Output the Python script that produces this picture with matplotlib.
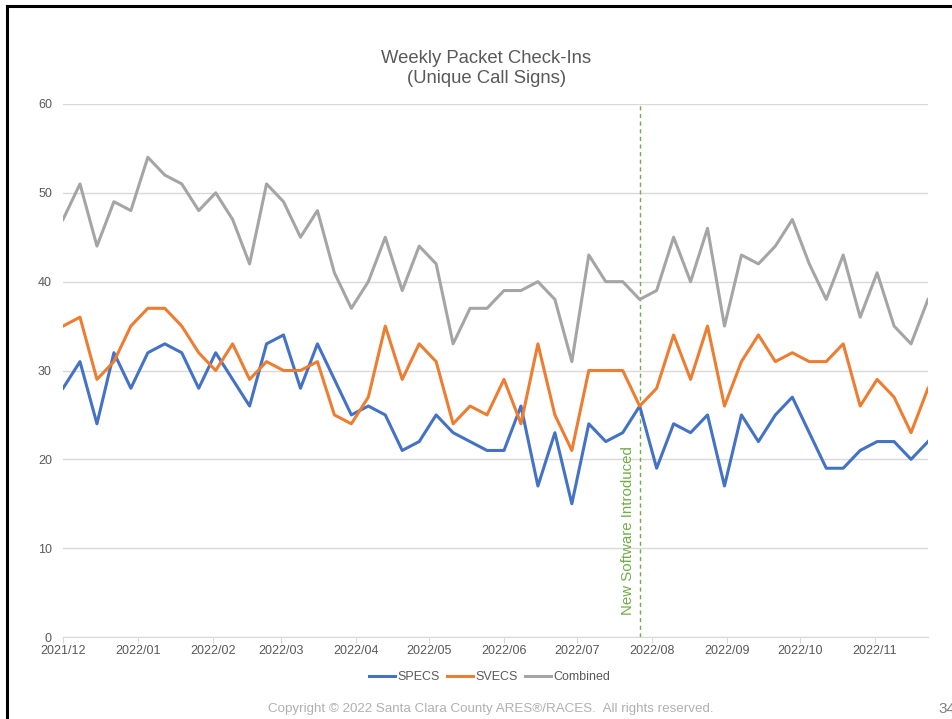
import numpy as np
import pandas as pd
import matplotlib
matplotlib.use("Agg")
import matplotlib.pyplot as plt
import matplotlib.dates as mdates
from matplotlib.lines import Line2D

plt.rcParams["font.family"] = ["Liberation Sans", "DejaVu Sans"]

# weekly check-ins, every Wednesday from 2021-12-01
weeks = pd.date_range("2021-12-01", periods=52, freq="7D")

specs = [28, 31, 24, 32, 28, 32, 33, 32, 28, 32,
         29, 26, 33, 34, 28, 33, 29, 25, 26, 25,
         21, 22, 25, 23, 22, 21, 21, 26, 17, 23,
         15, 24, 22, 23, 26, 19, 24, 23, 25, 17,
         25, 22, 25, 27, 23, 19, 19, 21, 22, 22,
         20, 22]
svecs = [35, 36, 29, 31, 35, 37, 37, 35, 32, 30,
         33, 29, 31, 30, 30, 31, 25, 24, 27, 35,
         29, 33, 31, 24, 26, 25, 29, 24, 33, 25,
         21, 30, 30, 30, 26, 28, 34, 29, 35, 26,
         31, 34, 31, 32, 31, 31, 33, 26, 29, 27,
         23, 28]
combined = [47, 51, 44, 49, 48, 54, 52, 51, 48, 50,
            47, 42, 51, 49, 45, 48, 41, 37, 40, 45,
            39, 44, 42, 33, 37, 37, 39, 39, 40, 38,
            31, 43, 40, 40, 38, 39, 45, 40, 46, 35,
            43, 42, 44, 47, 42, 38, 43, 36, 41, 35,
            33, 38]

series = [("SPECS", specs, "#4472c4"),
          ("SVECS", svecs, "#ed7d31"),
          ("Combined", combined, "#a5a5a5")]

software_date = pd.Timestamp("2022-07-27")
month_ticks = pd.date_range("2021-12-01", "2022-11-01", freq="MS")

fig = plt.figure(figsize=(9.52, 7.19), dpi=100)
ax = fig.add_axes([0.0662, 0.1140, 0.9086, 0.7414])

for name, vals, color in series:
    ax.plot(weeks, vals, color=color, lw=2.2, label=name, zorder=3)

ax.axvline(software_date, color="#70ad47", lw=1.0, ls=(0, (3, 2.5)), zorder=2)
ax.text(software_date - pd.Timedelta(days=5), 2.5, "New Software Introduced",
        rotation=90, ha="center", va="bottom", color="#70ad47", fontsize=10.8)

ax.set_xlim(weeks[0], weeks[-1])
ax.set_ylim(0, 60)
ax.set_yticks(range(0, 61, 10))
ax.set_xticks(month_ticks)
ax.xaxis.set_major_formatter(mdates.DateFormatter("%Y/%m"))

ax.grid(axis="y", color="#d9d9d9", lw=1.0)
ax.set_axisbelow(True)
for side in ["top", "right", "left"]:
    ax.spines[side].set_visible(False)
ax.spines["bottom"].set_color("#d9d9d9")
ax.tick_params(axis="y", length=0, pad=8, labelsize=9, labelcolor="#595959")
ax.tick_params(axis="x", length=4, width=0.8, color="#d9d9d9", pad=2,
               labelsize=9, labelcolor="#595959")

fig.text(0.511, 0.905, "Weekly Packet Check-Ins\n(Unique Call Signs)",
         ha="center", va="center", fontsize=13.3, color="#595959",
         linespacing=1.25)

handles = [Line2D([], [], color=c, lw=2.2) for _, _, c in series]
fig.legend(handles, [n for n, _, _ in series], loc="center",
           bbox_to_anchor=(0.514, 0.058), ncol=3, frameon=False,
           fontsize=9, handlelength=2.1, handletextpad=0.15,
           columnspacing=0.6, labelcolor="#595959")

fig.text(0.516, 0.014, "Copyright \u00a9 2022 Santa Clara County ARES\u00ae/RACES.  All rights reserved.",
         ha="center", va="center", fontsize=9.6, color="#b0b0b0")
fig.text(0.986, 0.014, "34", ha="left", va="center", fontsize=11, color="#7f7f7f")

# slide frame edges
fig.add_artist(Line2D([0.0078, 1.0], [0.9917, 0.9917], color="black", lw=2.2))
fig.add_artist(Line2D([0.0078, 0.0078], [0.0, 0.9917], color="black", lw=2.2))

fig.savefig("out.png", dpi=100)
